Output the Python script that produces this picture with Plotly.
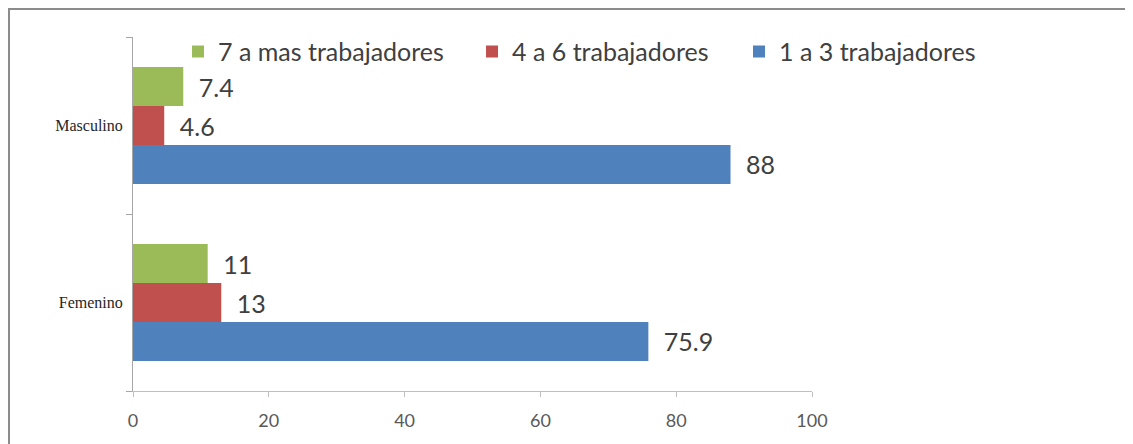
import plotly.graph_objects as go

categories = ["Femenino", "Masculino"]
series_names = ["1 a 3 trabajadores", "4 a 6 trabajadores", "7 a mas trabajadores"]
values_1a3 = [75.9, 88]
values_4a6 = [13, 4.6]
values_7mas = [11, 7.4]
series_values = [values_1a3, values_4a6, values_7mas]
colors = ["#4F81BD", "#C0504D", "#9BBB59"]
x_ticks = [0, 20, 40, 60, 80, 100]

FONT = "Lato, Calibri, sans-serif"
legend_ids = ["legend3", "legend2", "legend"]
legend_x = [0.8925, 0.4993, 0.0663]

fig = go.Figure()
for name, vals, col, lid in zip(series_names, series_values, colors, legend_ids):
    fig.add_trace(go.Bar(
        y=categories, x=vals, name=name, orientation="h", legend=lid,
        marker=dict(color=col, line=dict(width=0)),
        text=[f"\u2002{v:g}" for v in vals],
        textposition="outside", cliponaxis=False,
        textfont=dict(family=FONT, size=25, color="#404040"),
    ))

legend_common = dict(orientation="h", y=0.958, xanchor="left", yanchor="middle",
                     font=dict(family=FONT, size=25, color="#404040"),
                     bgcolor="rgba(0,0,0,0)", borderwidth=0)

fig.update_layout(
    width=1133, height=444,
    margin=dict(l=125, r=329, t=29, b=61),
    paper_bgcolor="white", plot_bgcolor="white",
    barmode="group", bargap=0.34, bargroupgap=0,
    showlegend=True,
    legend=dict(x=legend_x[2], **legend_common),
    legend2=dict(x=legend_x[1], **legend_common),
    legend3=dict(x=legend_x[0], **legend_common),
    xaxis=dict(range=[0, 100], tickvals=x_ticks, showgrid=False, zeroline=False,
               showline=True, linecolor="#BFBFBF", linewidth=1,
               ticks="outside", ticklen=5, tickcolor="#BFBFBF",
               ticklabelstandoff=8,
               tickfont=dict(family=FONT, size=18, color="#595959")),
    yaxis=dict(showgrid=False, zeroline=False, showline=True, linecolor="#A6A6A6", linewidth=1,
               ticks="outside", ticklen=6, tickcolor="#A6A6A6", tickson="boundaries",
               ticklabelstandoff=6,
               tickfont=dict(family="Liberation Serif, Times New Roman, serif", size=16, color="#262626")),
    shapes=[dict(type="path", xref="paper", yref="paper",
                 path="M -0.1826 -0.3 L -0.1826 1.079 L 1.6 1.079",
                 line=dict(color="#8C8C8C", width=2))],
)

fig.write_html("out.html")
